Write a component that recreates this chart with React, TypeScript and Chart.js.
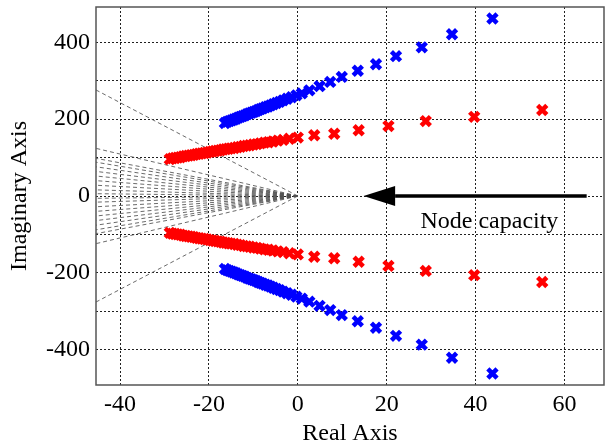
import React, { useEffect, useRef } from "react";
import { Chart, registerables } from "chart.js";

Chart.register(...registerables);

// ---- data ----
const blueUpperX = [-16.4, -15.9, -15.4, -14.9, -14.4, -13.9, -13.4, -12.9, -12.4, -11.9, -11.4, -10.9, -10.4, -9.9, -9.4, -8.9, -8.4, -7.9, -7.3, -6.7, -6.1, -5.5, -4.8, -4.1, -3.3, -2.4, -1.4, -0.3, 0.9, 2.6, 4.9, 7.3, 9.9, 13.5, 17.6, 22.1, 27.9, 34.7, 43.8];
const blueUpperY = [190, 193, 195, 197, 199, 201, 204, 206, 208, 210, 213, 215, 217, 219, 221, 224, 226, 228, 231, 233, 236, 239, 242, 245, 249, 253, 257, 262, 267, 275, 286, 297, 310, 326, 343, 364, 387, 421, 462];
const blueLowerY = [-190, -193, -195, -197, -199, -201, -204, -206, -208, -210, -213, -215, -217, -219, -221, -224, -226, -228, -231, -233, -236, -239, -242, -245, -249, -253, -257, -262, -267, -275, -286, -297, -310, -326, -343, -364, -387, -421, -462];

const redUpperX = [-28.8, -28.2, -27.6, -27.0, -26.4, -25.8, -25.2, -24.6, -24.0, -23.4, -22.8, -22.2, -21.6, -21.0, -20.4, -19.8, -19.2, -18.6, -18.0, -17.4, -16.8, -16.2, -15.6, -15.0, -14.3, -13.6, -12.9, -12.2, -11.5, -10.8, -10.0, -9.2, -8.4, -7.5, -6.6, -5.6, -4.5, -3.3, -1.9, 0, 3.7, 8.2, 13.7, 20.4, 28.8, 39.7, 55];
const redUpperY = [96, 98, 99, 100, 101, 103, 104, 105, 106, 107, 109, 110, 111, 112, 113, 115, 116, 117, 118, 119, 121, 122, 123, 124, 125, 127, 128, 130, 131, 132, 134, 135, 137, 139, 140, 142, 144, 146, 149, 152, 158, 162, 171, 182, 195, 206, 224];
const redLowerY = [-96, -98, -99, -100, -101, -103, -104, -105, -106, -107, -109, -110, -111, -112, -113, -115, -116, -117, -118, -119, -121, -122, -123, -124, -125, -127, -128, -130, -131, -132, -134, -135, -137, -139, -140, -142, -144, -146, -149, -152, -158, -162, -171, -182, -195, -206, -224];

// damping-ratio grid lines: imaginary value where each ray from the origin meets the left edge
const dampingRayEnds = [276, 124, 98, 88, 76, 64, 52, 40, 28, 16, 6, -6, -16, -28, -40, -52, -64, -76, -88, -98, -124, -276];

const xTicks = [-40, -20, 0, 20, 40, 60];
const yGrid = [-400, -300, -200, -100, 0, 100, 200, 300, 400];
const yLabelled = [-400, -200, 0, 200, 400];

const X_MIN = -45.4;
const X_MAX = 68.9;
const Y_MIN = -492;
const Y_MAX = 492;

const FONT = "'Liberation Serif', 'Times New Roman', serif";

const toPts = (xs: number[], ys: number[]) => xs.map((x, i) => ({ x, y: ys[i] }));

const framePlugin = {
  id: "frameAndAnnotation",
  afterDatasetsDraw(chart: any) {
    const { ctx, chartArea, scales } = chart;
    const xs = scales.x;
    const ys = scales.y;
    ctx.save();
    // frame
    ctx.strokeStyle = "#555";
    ctx.lineWidth = 1.5;
    ctx.strokeRect(chartArea.left, chartArea.top, chartArea.right - chartArea.left, chartArea.bottom - chartArea.top);

    // arrow "Node capacity"
    const y0 = ys.getPixelForValue(0);
    const tailX = xs.getPixelForValue(65);
    const tipX = xs.getPixelForValue(14.8);
    const baseX = xs.getPixelForValue(21.9);
    ctx.strokeStyle = "#000";
    ctx.fillStyle = "#000";
    ctx.lineWidth = 3.5;
    ctx.beginPath();
    ctx.moveTo(tailX, y0);
    ctx.lineTo(baseX, y0);
    ctx.stroke();
    ctx.beginPath();
    ctx.moveTo(tipX, y0);
    ctx.lineTo(baseX, y0 - 10);
    ctx.lineTo(baseX, y0 + 10);
    ctx.closePath();
    ctx.fill();

    ctx.font = `24px ${FONT}`;
    ctx.textAlign = "left";
    ctx.textBaseline = "alphabetic";
    ctx.fillText("Node capacity", xs.getPixelForValue(27.6), ys.getPixelForValue(-83));
    ctx.restore();
  },
};

export default function App() {
  const ref = useRef<HTMLCanvasElement | null>(null);

  useEffect(() => {
    if (!ref.current) return;
    const rayDatasets = dampingRayEnds.map((v) => ({
      type: "line" as const,
      data: [
        { x: 0, y: 0 },
        { x: X_MIN, y: v },
      ],
      borderColor: "rgba(80,80,80,0.85)",
      borderWidth: 1,
      borderDash: [4, 3],
      pointRadius: 0,
      showLine: true,
      fill: false,
      order: 5,
    }));

    const markerBase = {
      pointStyle: "crossRot" as const,
      pointRadius: 6.5,
      pointBorderWidth: 4.5,
      showLine: false,
      order: 0,
    };

    const chart = new Chart(ref.current, {
      type: "scatter",
      data: {
        datasets: [
          ...rayDatasets,
          { ...markerBase, data: toPts(redUpperX, redUpperY), borderColor: "rgb(255,0,0)", backgroundColor: "rgb(255,0,0)" },
          { ...markerBase, data: toPts(redUpperX, redLowerY), borderColor: "rgb(255,0,0)", backgroundColor: "rgb(255,0,0)" },
          { ...markerBase, data: toPts(blueUpperX, blueUpperY), borderColor: "rgb(0,0,255)", backgroundColor: "rgb(0,0,255)" },
          { ...markerBase, data: toPts(blueUpperX, blueLowerY), borderColor: "rgb(0,0,255)", backgroundColor: "rgb(0,0,255)" },
        ] as any,
      },
      options: {
        animation: false,
        responsive: false,
        devicePixelRatio: 1,
        layout: { autoPadding: false, padding: { top: 7, right: 1, left: 0, bottom: 0 } },
        plugins: {
          legend: { display: false },
          tooltip: { enabled: false },
        },
        scales: {
          x: {
            type: "linear",
            min: X_MIN,
            max: X_MAX,
            afterBuildTicks: (scale: any) => {
              scale.ticks = xTicks.map((v) => ({ value: v }));
            },
            afterFit: (scale: any) => {
              scale.height = 62;
              scale.paddingLeft = 0;
              scale.paddingRight = 0;
              scale.paddingTop = 0;
              scale.paddingBottom = 0;
            },
            grid: {
              color: "rgba(20,20,20,0.95)",
              lineWidth: 1,
              drawTicks: false,
            },
            border: { display: false, dash: [2, 2] },
            ticks: {
              color: "#000",
              padding: 5,
              maxRotation: 0,
              font: { family: FONT, size: 24 },
              callback: (v: any) => String(v),
            },
            title: {
              display: true,
              text: "Real Axis",
              color: "#000",
              font: { family: FONT, size: 24, lineHeight: 1 },
              padding: { top: 0, bottom: 1 },
            },
          },
          y: {
            type: "linear",
            min: Y_MIN,
            max: Y_MAX,
            afterBuildTicks: (scale: any) => {
              scale.ticks = yGrid.map((v) => ({ value: v }));
            },
            afterFit: (scale: any) => {
              scale.width = 96;
              scale.paddingLeft = 0;
              scale.paddingRight = 0;
              scale.paddingTop = 0;
              scale.paddingBottom = 0;
            },
            grid: {
              color: "rgba(20,20,20,0.95)",
              lineWidth: 1,
              drawTicks: false,
            },
            border: { display: false, dash: [2, 2] },
            ticks: {
              color: "#000",
              padding: 6,
              font: { family: FONT, size: 24 },
              callback: (v: any) => (yLabelled.includes(Number(v)) ? String(v) : ""),
            },
            title: {
              display: true,
              text: "Imaginary Axis",
              color: "#000",
              font: { family: FONT, size: 24, lineHeight: 1 },
              padding: { top: 8, bottom: 0 },
            },
          },
        },
      } as any,
      plugins: [framePlugin],
    });
    return () => chart.destroy();
  }, []);

  return (
    <div style={{ position: "absolute", left: 0, top: 0, width: 605, height: 447, background: "#fff" }}>
      <canvas ref={ref} width={605} height={447} />
    </div>
  );
}
